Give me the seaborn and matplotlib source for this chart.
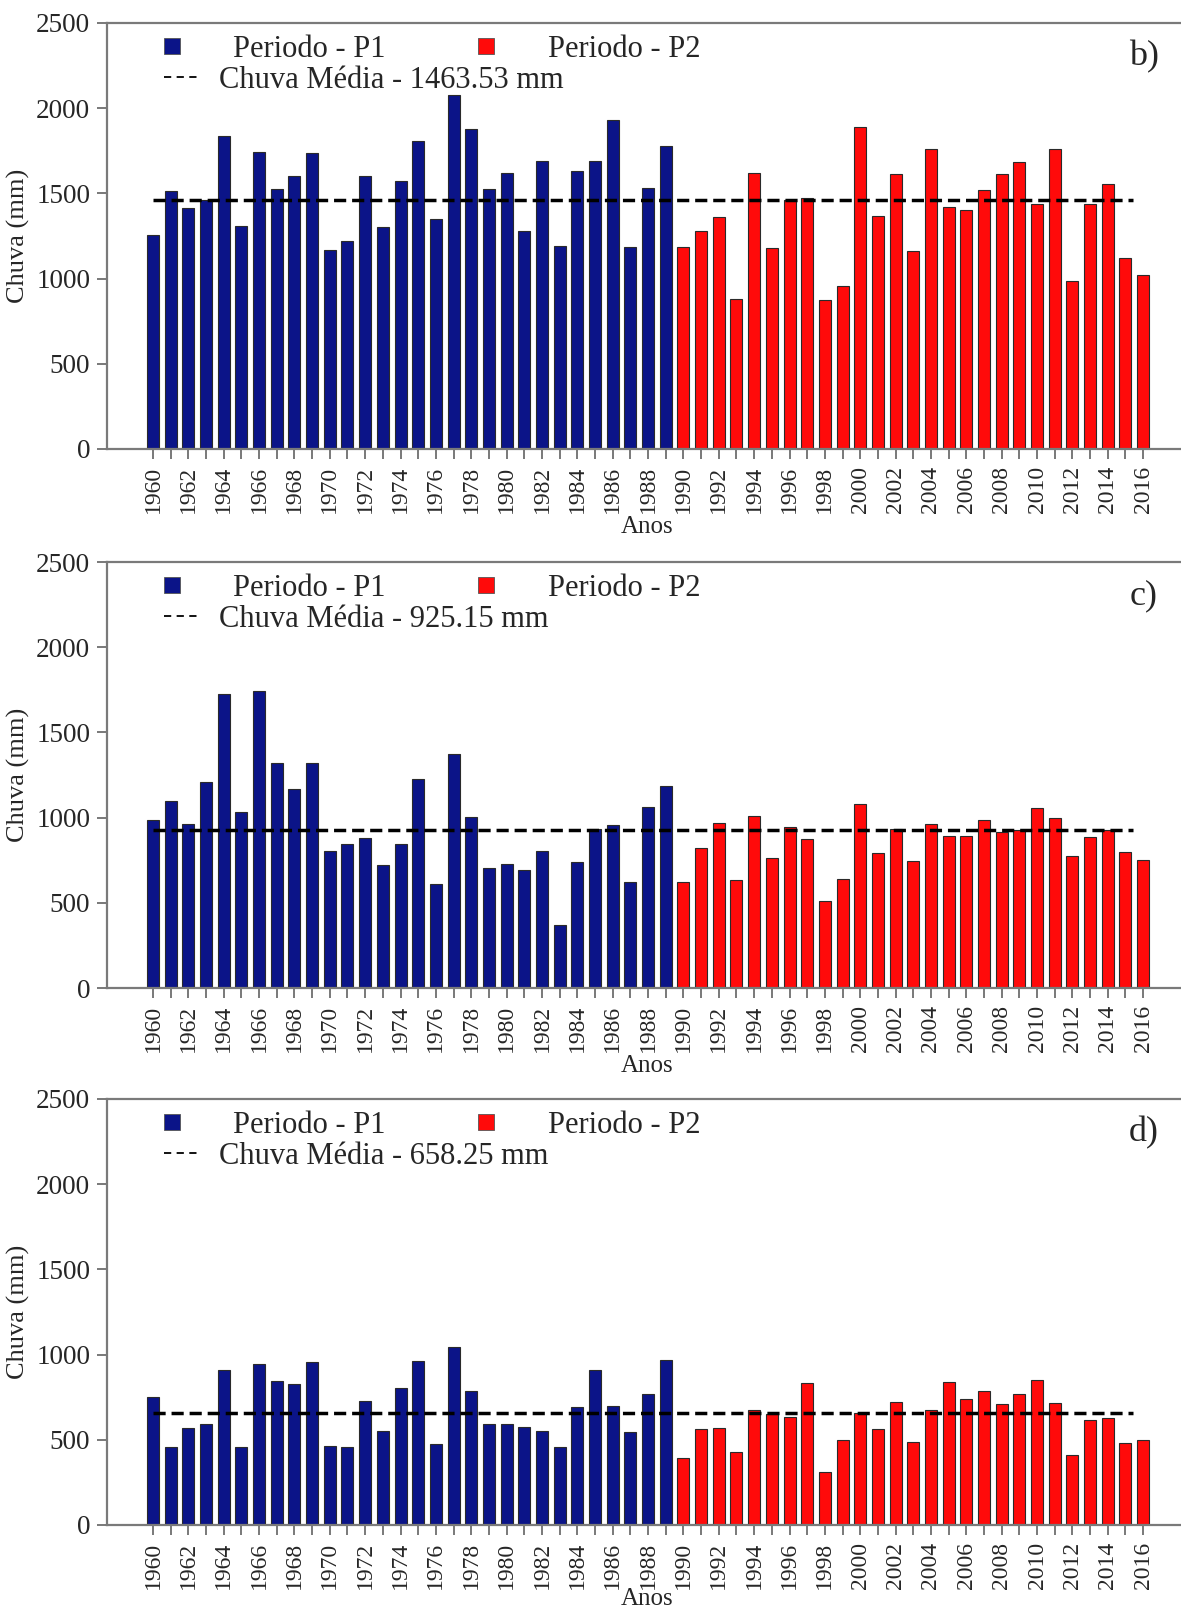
import matplotlib
matplotlib.use("Agg")
import matplotlib.pyplot as plt
import seaborn as sns
import pandas as pd
from matplotlib.lines import Line2D

# ---------------- data ----------------
years = list(range(1960, 2017))
year_labels = [str(y) for y in years]

rain_b = [1255, 1514, 1412, 1461, 1839, 1310, 1745, 1525, 1602, 1737,
          1167, 1222, 1604, 1300, 1571, 1810, 1347, 2080, 1880, 1527,
          1620, 1282, 1690, 1192, 1633, 1690, 1931, 1184, 1529, 1780,
          1188, 1280, 1363, 882, 1620, 1182, 1463, 1471, 875, 957,
          1890, 1367, 1616, 1161, 1763, 1418, 1402, 1520, 1616, 1682,
          1439, 1763, 984, 1439, 1557, 1118, 1022]

rain_c = [983, 1096, 965, 1210, 1723, 1034, 1742, 1318, 1169, 1318,
          803, 844, 883, 720, 848, 1224, 613, 1374, 1002, 705,
          730, 691, 803, 370, 737, 936, 959, 623, 1065, 1188,
          623, 824, 969, 632, 1008, 762, 942, 875, 509, 642,
          1079, 793, 934, 746, 961, 891, 891, 983, 916, 926,
          1059, 995, 773, 885, 926, 797, 750]

rain_d = [754, 460, 572, 590, 907, 460, 942, 846, 829, 956,
          466, 455, 727, 552, 805, 964, 476, 1046, 784, 590,
          590, 578, 552, 460, 692, 910, 696, 543, 768, 970,
          392, 564, 568, 429, 676, 650, 635, 835, 310, 500,
          660, 562, 721, 490, 676, 840, 741, 788, 711, 770,
          850, 717, 413, 619, 629, 480, 500]

means = [1463.53, 925.15, 658.25]
panel_tags = ["b)", "c)", "d)"]
series = [rain_b, rain_c, rain_d]
split_year = 1990
period_names = ["Periodo - P1", "Periodo - P2"]
y_ticks = [0, 500, 1000, 1500, 2000, 2500]

BLUE = "#0b1488"
RED = "#ff0a0a"

# ---------------- style ----------------
sns.set_style("ticks")
plt.rcParams["font.family"] = ["Liberation Serif", "DejaVu Serif"]

fig = plt.figure(figsize=(11.81, 16.11), dpi=100)
W, H = 1181, 1611
left = 107 / W
width = 1 - left
height = 426 / H
bottoms = [1 - 449 / H, 1 - 988 / H, 1 - 1525 / H]
xlabel_y = [-0.158, -0.158, -0.148]

n = len(years)
xl_left = -2.6
xl_right = 58.14

for vals, mval, tag, bot, xly in zip(series, means, panel_tags, bottoms, xlabel_y):
    ax = fig.add_axes([left, bot, width, height])
    df = pd.DataFrame({
        "Ano": year_labels,
        "Chuva": vals,
        "Periodo": [period_names[0] if y < split_year else period_names[1] for y in years],
    })
    sns.barplot(data=df, x="Ano", y="Chuva", hue="Periodo", order=year_labels,
                palette={period_names[0]: BLUE, period_names[1]: RED},
                saturation=1, dodge=False, width=0.68, edgecolor="#2a2a2a",
                linewidth=0.8, legend=False, ax=ax)
    ax.hlines(mval, 0, n - 1.55, colors="black", linewidth=2.5,
              linestyles=(0, (3.5, 1.7)), zorder=5)

    ax.set_xlim(xl_left, xl_right)
    ax.set_ylim(0, 2500)
    ax.set_yticks(y_ticks)
    ax.set_yticklabels([str(t) for t in y_ticks], fontsize=19.5)
    ax.set_xticks(range(n))
    ax.set_xticklabels([lab if (int(lab) % 2 == 0) else "" for lab in year_labels],
                       rotation=90, fontsize=17)
    ax.tick_params(axis="both", direction="out", length=7, width=1.1,
                   color="#555555", pad=5)
    for s in ["top", "left", "bottom"]:
        ax.spines[s].set_color("#7a7a7a")
        ax.spines[s].set_linewidth(1.6)
    ax.spines["right"].set_visible(False)

    ax.set_xlabel("Anos", fontsize=18)
    ax.set_ylabel("Chuva (mm)", fontsize=19)
    ax.xaxis.set_label_coords(0.503, xly)
    ax.yaxis.set_label_coords(-0.072, 0.5)

    ax.text(0.9655, 0.92, tag, transform=ax.transAxes, ha="center",
            va="center", fontsize=26)

    fs = 22
    em = fs * 100 / 72
    h1 = Line2D([], [], marker="s", linestyle="none", markersize=11,
                markerfacecolor=BLUE, markeredgecolor="#555555", markeredgewidth=0.6)
    h2 = Line2D([], [], marker="s", linestyle="none", markersize=11,
                markerfacecolor=RED, markeredgecolor="#555555", markeredgewidth=0.6)
    leg1 = ax.legend([h1, h2], period_names, ncol=2, loc="center left",
                     bbox_to_anchor=(0.0535, 0.938), frameon=False, fontsize=fs,
                     handlelength=15 / em, handletextpad=54 / em,
                     columnspacing=93 / em, borderpad=0, borderaxespad=0)
    ax.add_artist(leg1)
    hm = Line2D([], [], color="black", linewidth=1.3, linestyle=(0, (4, 3)))
    ax.legend([hm], [f"Chuva Média - {mval:.2f} mm"], loc="center left",
              bbox_to_anchor=(0.0535, 0.866), frameon=False, fontsize=fs,
              handlelength=32.5 / em, handletextpad=22 / em,
              borderpad=0, borderaxespad=0)

fig.savefig("out.png", dpi=100)
